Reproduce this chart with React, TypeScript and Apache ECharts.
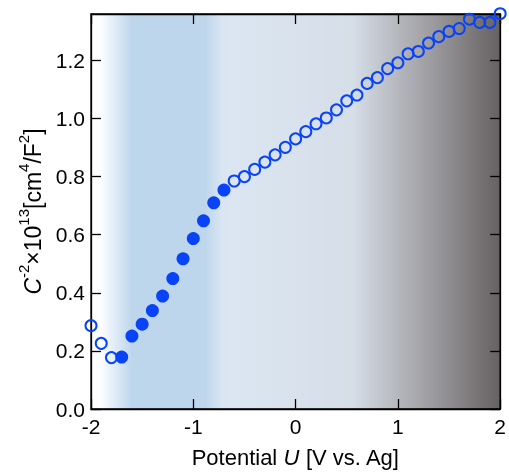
import React, { useEffect, useRef } from "react";
import * as echarts from "echarts";

const openU = [-2.0, -1.9, -1.8, -0.6, -0.5, -0.4, -0.3, -0.2, -0.1, 0.0, 0.1, 0.2, 0.3, 0.4, 0.5, 0.6, 0.7, 0.8, 0.9, 1.0, 1.1, 1.2, 1.3, 1.4, 1.5, 1.6, 1.7, 1.8, 1.9, 2.0];
const openC = [0.287, 0.226, 0.177, 0.785, 0.800, 0.825, 0.850, 0.875, 0.901, 0.930, 0.955, 0.982, 1.002, 1.030, 1.061, 1.081, 1.121, 1.141, 1.172, 1.192, 1.223, 1.231, 1.260, 1.282, 1.300, 1.310, 1.342, 1.331, 1.331, 1.361];
const filledU = [-1.7, -1.6, -1.5, -1.4, -1.3, -1.2, -1.1, -1.0, -0.9, -0.8, -0.7];
const filledC = [0.179, 0.251, 0.292, 0.339, 0.389, 0.449, 0.517, 0.587, 0.648, 0.710, 0.754];

const xTicks = ["-2", "-1", "0", "1", "2"];

const BLUE = "#0843f7";
const FONT = "Liberation Sans, Arial, Helvetica, sans-serif";

export default function App() {
  const ref = useRef<HTMLDivElement>(null);
  useEffect(() => {
    if (!ref.current) return;
    const chart = echarts.init(ref.current, undefined, { renderer: "svg" });
    const tickStyle = { show: true, inside: true, length: 10, lineStyle: { color: "#000", width: 1.3 } };
    const lineStyle = { show: true, onZero: false, lineStyle: { color: "#000", width: 1.3 } };
    chart.setOption({
      animation: false,
      grid: {
        left: 91,
        right: 6,
        top: 14,
        bottom: 60,
        show: true,
        borderColor: "#000",
        borderWidth: 1.3,
        backgroundColor: new echarts.graphic.LinearGradient(0, 0, 1, 0, [
          { offset: 0, color: "#ffffff" },
          { offset: 0.025, color: "#fbfdff" },
          { offset: 0.1, color: "#bed6ec" },
          { offset: 0.28, color: "#bed6ec" },
          { offset: 0.32, color: "#d9e5f2" },
          { offset: 0.335, color: "#dbe6f2" },
          { offset: 0.64, color: "#d6dee8" },
          { offset: 0.7, color: "#c4c8d0" },
          { offset: 0.8, color: "#a7a7ac" },
          { offset: 1, color: "#666161" },
        ]),
      },
      xAxis: [
        {
          type: "value",
          min: -2,
          max: 2,
          interval: 1,
          position: "bottom",
          axisLine: lineStyle,
          axisTick: tickStyle,
          splitLine: { show: false },
          axisLabel: {
            color: "#000",
            fontSize: 21,
            fontFamily: FONT,
            margin: 7,
            formatter: (v: number) => xTicks[Math.round(v + 2)] ?? String(v),
          },
          name: "{n|Potential }{it|U}{n| [V vs. Ag]}",
          nameLocation: "middle",
          nameGap: 37,
          nameTextStyle: {
            color: "#000",
            fontSize: 22,
            fontFamily: FONT,
            rich: {
              n: { fontSize: 22, fontFamily: FONT, color: "#000" },
              it: { fontSize: 22, fontFamily: FONT, color: "#000", fontStyle: "italic" },
            },
          },
        },
        {
          type: "value",
          min: -2,
          max: 2,
          interval: 1,
          position: "top",
          axisLine: lineStyle,
          axisTick: tickStyle,
          axisLabel: { show: false },
          splitLine: { show: false },
        },
      ],
      yAxis: [
        {
          type: "value",
          min: 0,
          max: 1.36,
          interval: 0.2,
          position: "left",
          axisLine: lineStyle,
          axisTick: tickStyle,
          splitLine: { show: false },
          axisLabel: {
            color: "#000",
            fontSize: 21,
            fontFamily: FONT,
            margin: 6,
            showMaxLabel: false,
            formatter: (v: number) => v.toFixed(1),
          },
          name: "{it|C}{sup|-2}{n|×10}{sup|13}{n|[cm}{sup|4}{n|/F}{sup|2}{n|]}",
          nameLocation: "middle",
          nameRotate: 90,
          nameGap: 43,
          nameTextStyle: {
            color: "#000",
            fontSize: 23,
            fontFamily: FONT,
            rich: {
              n: { fontSize: 23, fontFamily: FONT, color: "#000", lineHeight: 29, verticalAlign: "bottom" },
              it: { fontSize: 23, fontFamily: FONT, color: "#000", fontStyle: "italic", lineHeight: 29, verticalAlign: "bottom" },
              sup: { fontSize: 15, fontFamily: FONT, color: "#000", verticalAlign: "top", lineHeight: 17 },
            },
          },
        },
        {
          type: "value",
          min: 0,
          max: 1.36,
          interval: 0.2,
          position: "right",
          axisLine: lineStyle,
          axisTick: tickStyle,
          axisLabel: { show: false },
          splitLine: { show: false },
        },
      ],
      series: [
        {
          type: "scatter",
          clip: false,
          symbol: "circle",
          symbolSize: 11,
          itemStyle: { color: "rgba(0,0,0,0)", borderColor: BLUE, borderWidth: 2, opacity: 1 },
          data: openU.map((u, i) => [u, openC[i]]),
          z: 5,
        },
        {
          type: "scatter",
          clip: false,
          symbol: "circle",
          symbolSize: 13,
          itemStyle: { color: BLUE, opacity: 1 },
          data: filledU.map((u, i) => [u, filledC[i]]),
          z: 5,
        },
      ],
    });
    return () => chart.dispose();
  }, []);
  return <div ref={ref} style={{ position: "fixed", left: 0, top: 0, width: 509, height: 473 }} />;
}
